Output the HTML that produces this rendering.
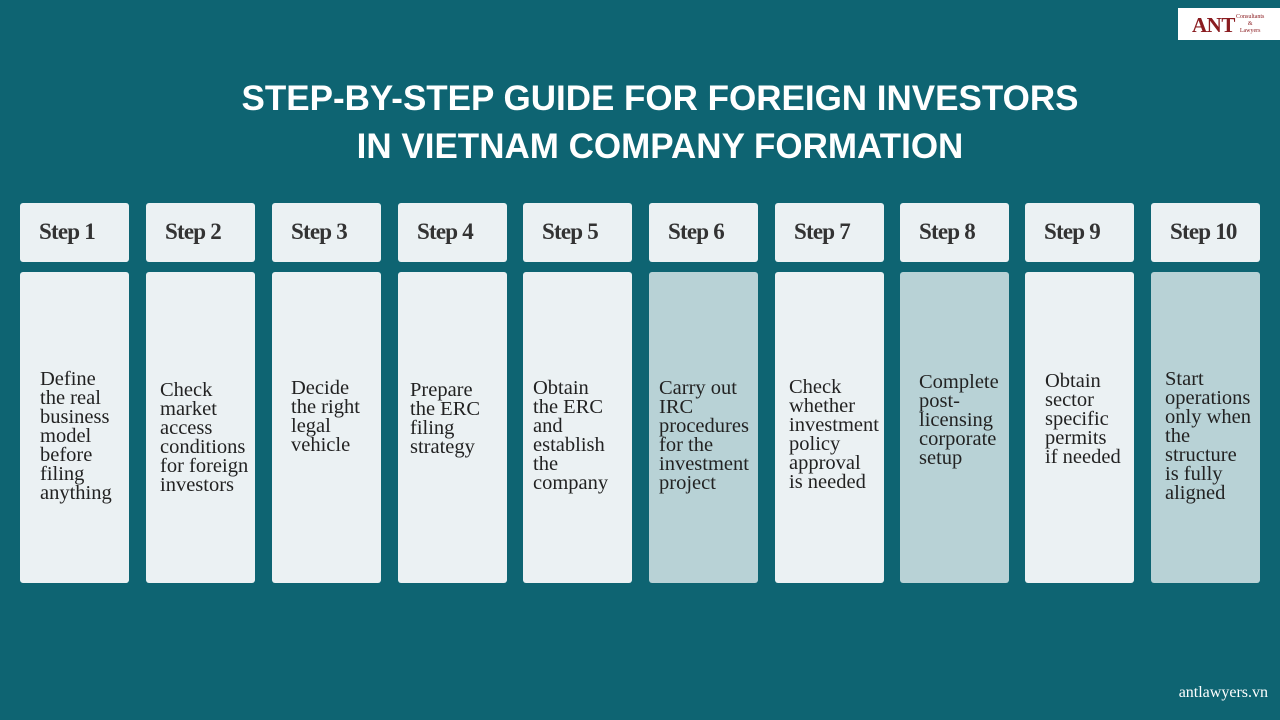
<!DOCTYPE html>
<html><head><style>
body{margin:0;width:1280px;height:720px;background:#0e6472;position:relative;overflow:hidden;font-family:"Liberation Serif",serif}
.logo{position:absolute;left:1178px;top:8px;width:102px;height:32px;background:#fff}
.logo b{position:absolute;left:14px;top:5px;color:#8a1c20;font-size:21px;font-weight:bold;letter-spacing:-0.5px}
.logo i{position:absolute;left:58px;top:6px;font-style:normal;font-size:6px;color:#8a1c20;line-height:7px;text-align:center}
h1{position:absolute;top:75px;left:0;width:1320px;margin:0;text-align:center;color:#fff;font-family:"Liberation Sans",sans-serif;font-weight:bold;font-size:35px;line-height:48px}
.h,.b{position:absolute;width:109px;border-radius:3px;background:#ebf1f3}
.h{top:203px;height:59px;font-weight:bold;font-size:23px;line-height:58px;text-align:left;box-sizing:border-box;padding-left:19px;color:#333;letter-spacing:-0.8px}
.b{top:272px;height:311px}
.b span{position:absolute;left:20px;font-size:20.5px;line-height:19px;color:#222;white-space:nowrap}
.d{background:#b8d2d6}
.foot{position:absolute;right:12px;top:684px;color:#fff;font-size:16px}
</style></head><body>
<div class="logo"><b>ANT</b><i>Consultants<br>&amp;<br>Lawyers</i></div>
<h1>STEP-BY-STEP GUIDE FOR FOREIGN INVESTORS<br>IN VIETNAM COMPANY FORMATION</h1>
<div class="h" style="left:20px">Step 1</div>
<div class="h" style="left:146px">Step 2</div>
<div class="h" style="left:272px">Step 3</div>
<div class="h" style="left:398px">Step 4</div>
<div class="h" style="left:523px">Step 5</div>
<div class="h" style="left:649px">Step 6</div>
<div class="h" style="left:775px">Step 7</div>
<div class="h" style="left:900px">Step 8</div>
<div class="h" style="left:1025px">Step 9</div>
<div class="h" style="left:1151px">Step 10</div>
<div class="b" style="left:20px"><span style="top:98px">Define<br>the real<br>business<br>model<br>before<br>filing<br>anything</span></div>
<div class="b" style="left:146px"><span style="left:14px;top:109px">Check<br>market<br>access<br>conditions<br>for foreign<br>investors</span></div>
<div class="b" style="left:272px"><span style="left:19px;top:107px">Decide<br>the right<br>legal<br>vehicle</span></div>
<div class="b" style="left:398px"><span style="left:12px;top:109px">Prepare<br>the ERC<br>filing<br>strategy</span></div>
<div class="b" style="left:523px"><span style="left:10px;top:107px">Obtain<br>the ERC<br>and<br>establish<br>the<br>company</span></div>
<div class="b d" style="left:649px"><span style="left:10px;top:107px">Carry out<br>IRC<br>procedures<br>for the<br>investment<br>project</span></div>
<div class="b" style="left:775px"><span style="left:14px;top:106px">Check<br>whether<br>investment<br>policy<br>approval<br>is needed</span></div>
<div class="b d" style="left:900px"><span style="left:19px;top:101px">Complete<br>post-<br>licensing<br>corporate<br>setup</span></div>
<div class="b" style="left:1025px"><span style="left:20px;top:100px">Obtain<br>sector<br>specific<br>permits<br>if needed</span></div>
<div class="b d" style="left:1151px"><span style="left:14px;top:98px">Start<br>operations<br>only when<br>the<br>structure<br>is fully<br>aligned</span></div>
<div class="foot">antlawyers.vn</div>
</body></html>
